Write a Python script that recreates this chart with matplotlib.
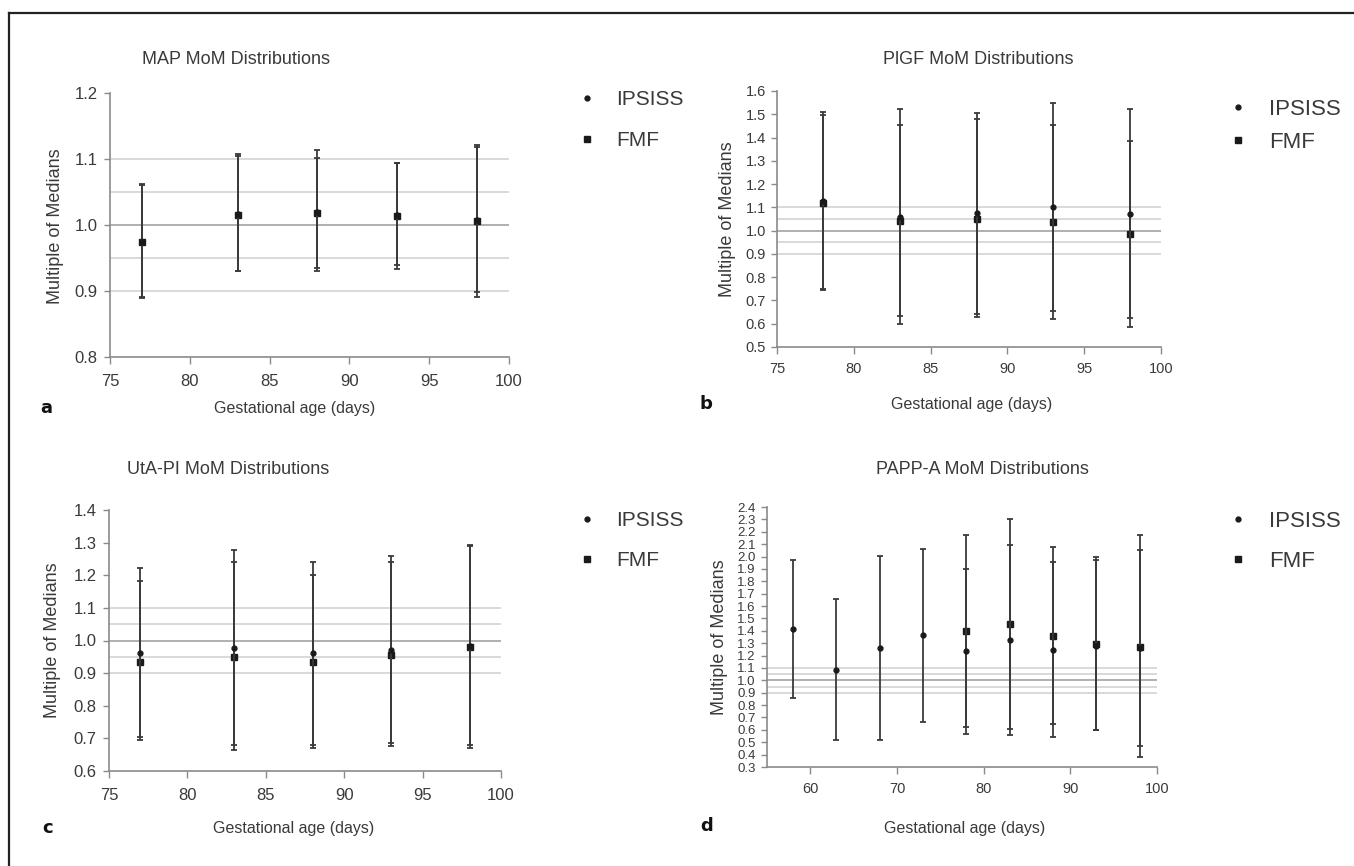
import matplotlib
matplotlib.use("Agg")
from matplotlib import pyplot as plt
from matplotlib.lines import Line2D

plt.rcParams['font.family'] = ['Liberation Sans', 'DejaVu Sans']

# MAP
a_days = [77, 83, 88, 93, 98]
a_ips = [0.975, 1.016, 1.019, 1.015, 1.007]
a_ips_lo = [0.889, 0.930, 0.935, 0.939, 0.899]
a_ips_hi = [1.062, 1.107, 1.113, 1.094, 1.121]
a_fmf = [0.974, 1.015, 1.018, 1.014, 1.006]
a_fmf_lo = [0.891, 0.930, 0.930, 0.933, 0.891]
a_fmf_hi = [1.060, 1.104, 1.101, 1.094, 1.118]

# PlGF
b_days = [78, 83, 88, 93, 98]
b_ips = [1.128, 1.059, 1.074, 1.101, 1.072]
b_ips_lo = [0.745, 0.633, 0.643, 0.656, 0.625]
b_ips_hi = [1.511, 1.452, 1.480, 1.452, 1.386]
b_fmf = [1.120, 1.041, 1.052, 1.035, 0.986]
b_fmf_lo = [0.748, 0.600, 0.628, 0.620, 0.586]
b_fmf_hi = [1.495, 1.521, 1.507, 1.547, 1.523]

# UtA-PI
c_days = [77, 83, 88, 93, 98]
c_ips = [0.963, 0.978, 0.961, 0.972, 0.984]
c_ips_lo = [0.703, 0.679, 0.681, 0.687, 0.680]
c_ips_hi = [1.181, 1.240, 1.202, 1.242, 1.291]
c_fmf = [0.935, 0.950, 0.933, 0.957, 0.980]
c_fmf_lo = [0.694, 0.663, 0.669, 0.676, 0.671]
c_fmf_hi = [1.223, 1.276, 1.241, 1.260, 1.293]

# PAPP-A
d_ips_days = [58, 63, 68, 73, 78, 83, 88, 93, 98]
d_ips = [1.415, 1.086, 1.258, 1.363, 1.234, 1.323, 1.245, 1.277, 1.261]
d_ips_lo = [0.860, 0.521, 0.521, 0.663, 0.623, 0.610, 0.647, 0.596, 0.467]
d_ips_hi = [1.969, 1.654, 2.004, 2.063, 1.902, 2.090, 1.956, 1.969, 2.055]
d_fmf_days = [78, 83, 88, 93, 98]
d_fmf = [1.398, 1.455, 1.361, 1.291, 1.267]
d_fmf_lo = [0.566, 0.561, 0.540, 0.598, 0.378]
d_fmf_hi = [2.177, 2.300, 2.077, 1.996, 2.174]

ref_lines = [0.9, 0.95, 1.0, 1.05, 1.1]

txt = '#3a3a3a'
spine = '#8a8a8a'

W, H = 1354, 866
fig = plt.figure(figsize=(W / 100, H / 100), dpi=100)


def px(x0, y0, x1, y1):
    # pixel box -> figure fraction rect
    return [x0 / W, 1 - y1 / H, (x1 - x0) / W, (y1 - y0) / H]


def draw_panel(rect, xi, yi, loi, hii, xf, yf, lof, hif, xlim, ylim, yticks, xticks,
               ytick_fs, xtick_fs, ypad, xpad):
    ax = fig.add_axes(rect)
    for v in ref_lines:
        c = '#9a9a9a' if v == 1.0 else '#d0d0d0'
        ax.plot([xlim[0], 100], [v, v], color=c, lw=1.1, zorder=1)
    ax.errorbar(xf, yf, yerr=[[m - l for m, l in zip(yf, lof)], [h - m for m, h in zip(yf, hif)]],
                fmt='s', color='#1a1a1a', ecolor='#3a3a3a', ms=4.5, elinewidth=1.3,
                capsize=2.5, capthick=1.3, zorder=3)
    ax.errorbar(xi, yi, yerr=[[m - l for m, l in zip(yi, loi)], [h - m for m, h in zip(yi, hii)]],
                fmt='o', color='#1a1a1a', ecolor='#3a3a3a', ms=3.5, elinewidth=1.3,
                capsize=2.5, capthick=1.3, zorder=4)
    ax.set_xlim(xlim)
    ax.set_ylim(ylim)
    ax.set_xticks(xticks)
    ax.set_yticks(yticks)
    ax.set_yticklabels(['%.1f' % t for t in yticks])
    for s in ['top', 'right']:
        ax.spines[s].set_visible(False)
    for s in ['left', 'bottom']:
        ax.spines[s].set_color(spine)
        ax.spines[s].set_linewidth(1.2)
    ax.tick_params(axis='y', colors=spine, labelcolor=txt, labelsize=ytick_fs, length=4, width=1, pad=ypad)
    ax.tick_params(axis='x', colors=spine, labelcolor=txt, labelsize=xtick_fs, length=5, width=1, pad=xpad)
    ax.patch.set_alpha(0)
    return ax


def legend_for(ax, x, y, fs, spacing):
    handles = [Line2D([], [], marker='o', ls='', color='#1a1a1a', ms=3.5),
               Line2D([], [], marker='s', ls='', color='#1a1a1a', ms=4)]
    ax.legend(handles, ['IPSISS', 'FMF'], loc='upper left', bbox_to_anchor=(x / W, 1 - y / H),
              bbox_transform=fig.transFigure, frameon=False, fontsize=fs, labelcolor=txt,
              handletextpad=0.9, labelspacing=spacing, handlelength=1.0, borderaxespad=0, borderpad=0)


ax_a = draw_panel(px(110, 93, 509, 357), a_days, a_ips, a_ips_lo, a_ips_hi,
                  a_days, a_fmf, a_fmf_lo, a_fmf_hi, (75, 100), (0.8, 1.2),
                  [0.8, 0.9, 1.0, 1.1, 1.2], [75, 80, 85, 90, 95, 100], 12, 12, 5, 7)
ax_b = draw_panel(px(777, 91, 1161, 347), b_days, b_ips, b_ips_lo, b_ips_hi,
                  b_days, b_fmf, b_fmf_lo, b_fmf_hi, (75, 100), (0.5, 1.6),
                  [0.5 + 0.1 * i for i in range(12)], [75, 80, 85, 90, 95, 100], 10.5, 10.5, 4, 6)
ax_c = draw_panel(px(109, 510, 501, 771), c_days, c_ips, c_ips_lo, c_ips_hi,
                  c_days, c_fmf, c_fmf_lo, c_fmf_hi, (75, 100), (0.6, 1.4),
                  [0.6 + 0.1 * i for i in range(9)], [75, 80, 85, 90, 95, 100], 12, 12, 5, 7)
ax_d = draw_panel(px(767, 507, 1157, 767), d_ips_days, d_ips, d_ips_lo, d_ips_hi,
                  d_fmf_days, d_fmf, d_fmf_lo, d_fmf_hi, (55, 100), (0.3, 2.4),
                  [0.3 + 0.1 * i for i in range(22)], [60, 70, 80, 90, 100], 9.5, 10.5, 4, 6)

# titles
fig.text(236 / W, 1 - 60 / H, 'MAP MoM Distributions', ha='center', va='center', fontsize=13, color=txt)
fig.text(978 / W, 1 - 60 / H, 'PlGF MoM Distributions', ha='center', va='center', fontsize=13, color=txt)
fig.text(228 / W, 1 - 470 / H, 'UtA-PI MoM Distributions', ha='center', va='center', fontsize=13, color=txt)
fig.text(982 / W, 1 - 470 / H, 'PAPP-A MoM Distributions', ha='center', va='center', fontsize=13, color=txt)

# axis labels
for x, y in [(295, 408), (972, 404), (294, 828), (965, 828)]:
    fig.text(x / W, 1 - y / H, 'Gestational age (days)', ha='center', va='center', fontsize=11.5, color=txt)
for x, y in [(55, 226), (728, 219), (53, 640), (720, 637)]:
    fig.text(x / W, 1 - y / H, 'Multiple of Medians', ha='center', va='center', rotation=90,
             fontsize=13, color=txt)

# panel letters
for x, y, s in [(46, 408, 'a'), (706, 404, 'b'), (48, 828, 'c'), (707, 826, 'd')]:
    fig.text(x / W, 1 - y / H, s, ha='center', va='center', fontsize=13, fontweight='bold',
             family='DejaVu Sans', color='#111111')

# legends
legend_for(ax_a, 577, 90, 15, 1.05)
legend_for(ax_b, 1227, 99, 16, 0.55)
legend_for(ax_c, 577, 511, 15, 1.0)
legend_for(ax_d, 1227, 511, 16, 0.85)

# outer frame (top and left only)
fig.add_artist(Line2D([9 / W, 1], [1 - 13 / H, 1 - 13 / H], transform=fig.transFigure, color='#222222', lw=1.6))
fig.add_artist(Line2D([9 / W, 9 / W], [0, 1 - 13 / H], transform=fig.transFigure, color='#222222', lw=1.6))

fig.savefig('out.png', dpi=100)
